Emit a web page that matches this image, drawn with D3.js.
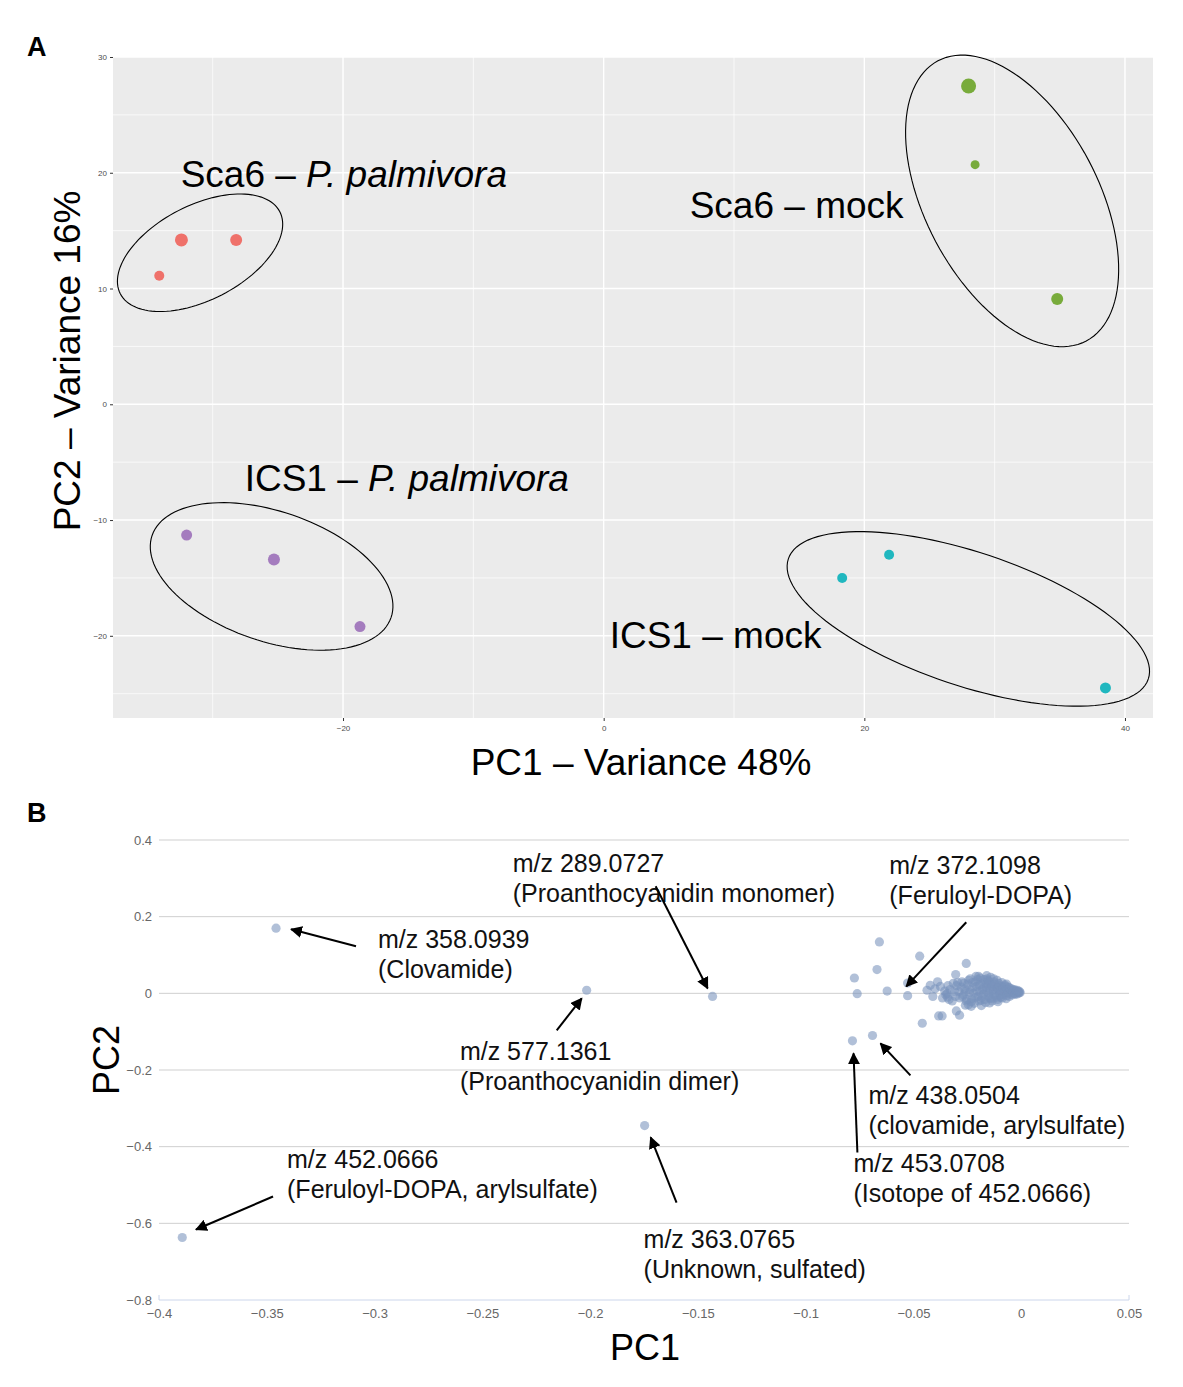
<!DOCTYPE html>
<html>
<head>
<meta charset="utf-8">
<script src="https://cdn.jsdelivr.net/npm/d3@7"></script>
<style>
  body { margin: 0; background: #fff; }
  text { font-family: "Liberation Sans", Arial, sans-serif; }
</style>
</head>
<body>
<div id="chart"></div>
<script>
// ---- panel A data (PCA scores) ----
let groupNames = ["Sca6 – P. palmivora", "Sca6 – mock", "ICS1 – P. palmivora", "ICS1 – mock"];
let groupColors = ["#ef716a", "#78ab3b", "#a47cbe", "#20b7bf"];
let scoreGroup = [0, 0, 0, 1, 1, 1, 2, 2, 2, 3, 3, 3];
let scorePC1 = [-32.4, -28.2, -34.1, 28.0, 28.5, 34.8, -32.0, -25.3, -18.7, 18.3, 21.9, 38.5];
let scorePC2 = [14.2, 14.2, 11.1, 27.5, 20.7, 9.1, -11.3, -13.4, -19.2, -15.0, -13.0, -24.5];
let scoreSize = [6.5, 6, 5, 7.5, 4.5, 6, 5.5, 6, 5.5, 5, 5, 5.5];

// ellipse per group: center, major semi-axis vector, minor semi-axis vector (data units)
let ellCx = [-30.97, 31.34, -25.48, 27.98];
let ellCy = [13.09, 17.57, -14.87, -18.54];
let ellMajor = [[6.12, 3.54], [5.69, -12.10], [9.17, -3.54], [13.81, -5.19]];
let ellMinor = [[1.66, -3.64], [-5.87, -3.50], [-1.61, -5.30], [-1.62, -5.47]];

// group label anchors (data units)
let labelX = [-32.46, 6.6, -27.55, 0.46];
let labelY = [18.76, 16.08, -7.52, -21.09];

let aTicksX = [-20, 0, 20, 40];
let aTicksY = [-20, -10, 0, 10, 20, 30];
let aMinorX = [-30, -10, 10, 30];
let aMinorY = [-25, -15, -5, 5, 15, 25];

// ---- panel B data (loadings) ----
let loadPC1 = [
  -0.3457, -0.2016, -0.1432, -0.1747, -0.3892,
  -0.0658, -0.0471, -0.0669, -0.0774, -0.0761, -0.0622, -0.0527, -0.0527,
  -0.0255, -0.0304, -0.0459, -0.0690, -0.0783, -0.0383, -0.0367, -0.0301,
  -0.0286, -0.0259, -0.0232, -0.0147, -0.0422, -0.0388, -0.0437, -0.0344,
  -0.0342, -0.0198, -0.0159,
  -0.0300, -0.0290, -0.0285, -0.0275, -0.0268, -0.0262, -0.0255, -0.0248,
  -0.0240, -0.0236, -0.0230, -0.0224, -0.0218, -0.0212, -0.0205, -0.0200,
  -0.0195, -0.0190, -0.0186, -0.0180, -0.0175, -0.0170, -0.0166, -0.0160,
  -0.0155, -0.0150, -0.0146, -0.0140, -0.0135, -0.0130, -0.0126, -0.0120,
  -0.0115, -0.0110, -0.0105, -0.0100, -0.0096, -0.0090, -0.0086, -0.0080,
  -0.0076, -0.0070, -0.0066, -0.0060, -0.0055, -0.0050, -0.0045, -0.0040,
  -0.0035, -0.0030, -0.0025, -0.0020, -0.0015, -0.0010, -0.0005,
  -0.0330, -0.0350, -0.0320, -0.0315, -0.0108, -0.0185, -0.0245, -0.0128,
  -0.0210, -0.0160, -0.0112, -0.0090, -0.0068, -0.0142,
  -0.0278, -0.0272, -0.0266, -0.0258, -0.0252, -0.0244, -0.0238, -0.0232,
  -0.0226, -0.0220, -0.0214, -0.0208, -0.0202, -0.0196, -0.0192, -0.0186,
  -0.0182, -0.0176, -0.0172, -0.0168, -0.0162, -0.0158, -0.0152, -0.0148,
  -0.0144, -0.0138, -0.0134, -0.0128, -0.0124, -0.0118, -0.0114, -0.0108,
  -0.0102, -0.0098, -0.0094, -0.0088, -0.0084, -0.0078, -0.0074, -0.0068,
  -0.0064, -0.0058, -0.0054, -0.0048, -0.0044, -0.0038, -0.0032, -0.0028,
  -0.0022, -0.0018, -0.0012, -0.0008,
  -0.0400, -0.0410, -0.0375, -0.0365, -0.0355, -0.0340, -0.0335, -0.0310,
  -0.0305, -0.0295
];
let loadPC2 = [
  0.170, 0.008, -0.008, -0.345, -0.637,
  0.134, 0.097, 0.062, 0.040, -0.001, 0.006, 0.027, -0.006,
  0.078, 0.049, -0.078, -0.110, -0.124, -0.059, -0.059, -0.046,
  -0.057, -0.031, -0.034, -0.025, 0.021, 0.030, 0.008, -0.001,
  -0.010, 0.044, 0.038,
  0.020, 0.005, -0.012, 0.030, -0.004, 0.012, -0.020, 0.024,
  0.002, 0.038, -0.014, 0.016, -0.026, 0.030, 0.006, -0.008,
  0.022, 0.040, -0.018, 0.010, -0.002, 0.028, -0.024, 0.016,
  0.034, 0.000, -0.012, 0.022, -0.020, 0.008, 0.030, -0.006,
  0.016, -0.016, 0.026, 0.002, -0.010, 0.018, 0.010, -0.004,
  0.022, -0.014, 0.006, 0.016, -0.008, 0.002, 0.012, -0.004,
  0.008, 0.000, 0.006, -0.002, 0.004, 0.001, 0.002,
  0.010, -0.004, -0.020, 0.026, -0.022, -0.032, -0.030, 0.038,
  0.044, 0.046, 0.034, 0.028, 0.024, 0.042,
  0.016, -0.008, 0.026, 0.004, -0.016, 0.034, 0.010, -0.022,
  0.028, 0.000, -0.012, 0.018, 0.036, -0.020, 0.004, 0.024,
  -0.010, 0.014, 0.036, -0.016, 0.006, 0.024, -0.006, 0.030,
  0.012, -0.014, 0.018, -0.002, 0.024, 0.008, -0.010, 0.014,
  0.020, -0.004, 0.008, -0.012, 0.014, 0.004, 0.018, -0.006,
  0.010, 0.002, 0.014, -0.002, 0.008, 0.004, 0.010, -0.002,
  0.004, 0.008, 0.003, 0.005,
  0.012, -0.008, 0.018, -0.012, 0.006, 0.020, -0.016, 0.004,
  -0.008, 0.028
];

let noteLine1 = ["m/z 358.0939", "m/z 577.1361", "m/z 289.0727", "m/z 372.1098",
  "m/z 438.0504", "m/z 453.0708", "m/z 363.0765", "m/z 452.0666"];
let noteLine2 = ["(Clovamide)", "(Proanthocyanidin dimer)", "(Proanthocyanidin monomer)", "(Feruloyl-DOPA)",
  "(clovamide, arylsulfate)", "(Isotope of 452.0666)", "(Unknown, sulfated)", "(Feruloyl-DOPA, arylsulfate)"];
let noteX = [-0.2984, -0.2604, -0.2359, -0.0612, -0.0709, -0.0778, -0.1752, -0.3406];
let noteY = [0.1175, -0.1749, 0.3159, 0.3107, -0.2898, -0.4648, -0.6632, -0.4569];
let arrowFrom = [[-0.3086, 0.1227], [-0.2155, -0.0966], [-0.1696, 0.2794], [-0.0255, 0.1854],
  [-0.0514, -0.2141], [-0.0760, -0.4151], [-0.1599, -0.5457], [-0.3471, -0.5300]];
let arrowTo = [[-0.3387, 0.1671], [-0.2039, -0.0131], [-0.1455, 0.0131], [-0.0533, 0.0183],
  [-0.0653, -0.1305], [-0.0778, -0.1567], [-0.1719, -0.3760], [-0.3828, -0.6162]];

let bTicksX = [-0.4, -0.35, -0.3, -0.25, -0.2, -0.15, -0.1, -0.05, 0, 0.05];
let bTicksY = [-0.8, -0.6, -0.4, -0.2, 0, 0.2, 0.4];

let svgWidth = 1183;
let svgHeight = 1387;

let svg = d3.select("#chart").append("svg")
  .attr("width", svgWidth).attr("height", svgHeight);

svg.append("defs").append("marker")
  .attr("id", "head")
  .attr("viewBox", "0 0 10 10")
  .attr("refX", 9).attr("refY", 5)
  .attr("markerWidth", 6).attr("markerHeight", 6)
  .attr("markerUnits", "strokeWidth")
  .attr("orient", "auto")
  .append("path").attr("d", "M0,0 L10,5 L0,10 Z").attr("fill", "#000");

// panel letters
svg.append("text").attr("x", 27).attr("y", 56).attr("font-size", 27)
  .attr("font-weight", "bold").text("A");
svg.append("text").attr("x", 27).attr("y", 822).attr("font-size", 27)
  .attr("font-weight", "bold").text("B");

// ================= panel A =================
let ax = d3.scaleLinear().domain([-37.65, 42.15]).range([113, 1153]);
let ay = d3.scaleLinear().domain([-27.1, 30]).range([718, 57]);

let gA = svg.append("g");
gA.append("rect").attr("x", ax.range()[0]).attr("y", ay.range()[1])
  .attr("width", ax.range()[1] - ax.range()[0])
  .attr("height", ay.range()[0] - ay.range()[1])
  .attr("fill", "#ebebeb");

gA.selectAll(".minx").data(aMinorX).enter().append("line")
  .attr("x1", d => ax(d)).attr("x2", d => ax(d))
  .attr("y1", ay.range()[0]).attr("y2", ay.range()[1])
  .attr("stroke", "#fff").attr("stroke-width", 0.7);
gA.selectAll(".miny").data(aMinorY).enter().append("line")
  .attr("y1", d => ay(d)).attr("y2", d => ay(d))
  .attr("x1", ax.range()[0]).attr("x2", ax.range()[1])
  .attr("stroke", "#fff").attr("stroke-width", 0.7);
gA.selectAll(".majx").data(aTicksX).enter().append("line")
  .attr("x1", d => ax(d)).attr("x2", d => ax(d))
  .attr("y1", ay.range()[0]).attr("y2", ay.range()[1])
  .attr("stroke", "#fff").attr("stroke-width", 1.4);
gA.selectAll(".majy").data(aTicksY).enter().append("line")
  .attr("y1", d => ay(d)).attr("y2", d => ay(d))
  .attr("x1", ax.range()[0]).attr("x2", ax.range()[1])
  .attr("stroke", "#fff").attr("stroke-width", 1.4);

let axisA_x = gA.append("g")
  .attr("transform", `translate(0, ${ay.range()[0]})`)
  .call(d3.axisBottom(ax).tickValues(aTicksX).tickSize(3).tickPadding(4));
let axisA_y = gA.append("g")
  .attr("transform", `translate(${ax.range()[0]}, 0)`)
  .call(d3.axisLeft(ay).tickValues(aTicksY).tickSize(3).tickPadding(3));
[axisA_x, axisA_y].forEach(a => {
  a.select(".domain").remove();
  a.selectAll(".tick line").attr("stroke", "#333");
  a.selectAll(".tick text").attr("font-size", 8).attr("fill", "#4d4d4d")
    .attr("font-family", "Liberation Sans, Arial, sans-serif");
});

// ellipses
let ellLine = d3.line().x(d => ax(d[0])).y(d => ay(d[1]));
let angles = d3.range(0, 361, 3).map(a => a * Math.PI / 180);
groupNames.forEach((g, i) => {
  let pts = angles.map(t => [
    ellCx[i] + ellMajor[i][0] * Math.cos(t) + ellMinor[i][0] * Math.sin(t),
    ellCy[i] + ellMajor[i][1] * Math.cos(t) + ellMinor[i][1] * Math.sin(t)
  ]);
  gA.append("path").attr("d", ellLine(pts))
    .attr("fill", "none").attr("stroke", "#000").attr("stroke-width", 1.1);
});

// points
gA.selectAll(".score").data(scorePC1).enter().append("circle")
  .attr("cx", (d, i) => ax(scorePC1[i]))
  .attr("cy", (d, i) => ay(scorePC2[i]))
  .attr("r", (d, i) => scoreSize[i])
  .attr("fill", (d, i) => groupColors[scoreGroup[i]]);

// group labels
groupNames.forEach((g, i) => {
  let parts = g.split(" – ");
  let t = gA.append("text").attr("x", ax(labelX[i])).attr("y", ay(labelY[i]))
    .attr("font-size", 37).attr("fill", "#000");
  t.append("tspan").text(parts[0] + " – ");
  t.append("tspan").attr("font-style", parts[1] === "mock" ? "normal" : "italic").text(parts[1]);
});

// axis titles
svg.append("text").attr("x", 641).attr("y", 775).attr("text-anchor", "middle")
  .attr("font-size", 37).text("PC1 – Variance 48%");
svg.append("text").attr("transform", "translate(80, 361) rotate(-90)")
  .attr("text-anchor", "middle").attr("font-size", 37).text("PC2 – Variance 16%");

// ================= panel B =================
let bx = d3.scaleLinear().domain([-0.4, 0.05]).range([159, 1129]);
let by = d3.scaleLinear().domain([-0.8, 0.4]).range([1300, 840]);
let gB = svg.append("g");

gB.selectAll(".gridB").data(bTicksY.filter(d => d > -0.8)).enter().append("line")
  .attr("x1", bx.range()[0]).attr("x2", bx.range()[1])
  .attr("y1", d => by(d)).attr("y2", d => by(d))
  .attr("stroke", "#cfcfcf").attr("stroke-width", 1);

// x axis line
gB.append("line").attr("x1", bx.range()[0]).attr("x2", bx.range()[1])
  .attr("y1", by(-0.8)).attr("y2", by(-0.8)).attr("stroke", "#ccd6eb");
gB.selectAll(".endTick").data([-0.4, 0.05]).enter().append("line")
  .attr("x1", d => bx(d)).attr("x2", d => bx(d))
  .attr("y1", by(-0.8)).attr("y2", by(-0.8) - 5).attr("stroke", "#ccd6eb");

let axisB_x = gB.append("g").attr("transform", `translate(0, ${by(-0.8)})`)
  .call(d3.axisBottom(bx).tickValues(bTicksX).tickSize(0).tickPadding(9)
    .tickFormat(d => d3.format("")(d).replace("-", "−")));
let axisB_y = gB.append("g").attr("transform", `translate(${bx.range()[0] - 3}, 0)`)
  .call(d3.axisLeft(by).tickValues(bTicksY).tickSize(0).tickPadding(4)
    .tickFormat(d => d3.format("")(d).replace("-", "−")));
[axisB_x, axisB_y].forEach(a => {
  a.select(".domain").remove();
  a.selectAll(".tick text").attr("font-size", 13).attr("fill", "#666")
    .attr("font-family", "Open Sans, DejaVu Sans, sans-serif");
});

// loadings
gB.selectAll(".load").data(loadPC1).enter().append("circle")
  .attr("cx", (d, i) => bx(loadPC1[i]))
  .attr("cy", (d, i) => by(loadPC2[i]))
  .attr("r", 4.6)
  .attr("fill", "rgb(120,146,188)")
  .attr("fill-opacity", 0.58);

// annotations
noteLine1.forEach((n, i) => {
  let t = gB.append("text").attr("x", bx(noteX[i])).attr("y", by(noteY[i]))
    .attr("font-size", 25).attr("fill", "#111");
  t.append("tspan").text(n);
  t.append("tspan").attr("x", bx(noteX[i])).attr("dy", 30).text(noteLine2[i]);
  gB.append("line")
    .attr("x1", bx(arrowFrom[i][0])).attr("y1", by(arrowFrom[i][1]))
    .attr("x2", bx(arrowTo[i][0])).attr("y2", by(arrowTo[i][1]))
    .attr("stroke", "#000").attr("stroke-width", 2)
    .attr("marker-end", "url(#head)");
});

svg.append("text").attr("x", 645).attr("y", 1360).attr("text-anchor", "middle")
  .attr("font-size", 36).text("PC1");
svg.append("text").attr("transform", "translate(119, 1060) rotate(-90)")
  .attr("text-anchor", "middle").attr("font-size", 36).text("PC2");
</script>
</body>
</html>
